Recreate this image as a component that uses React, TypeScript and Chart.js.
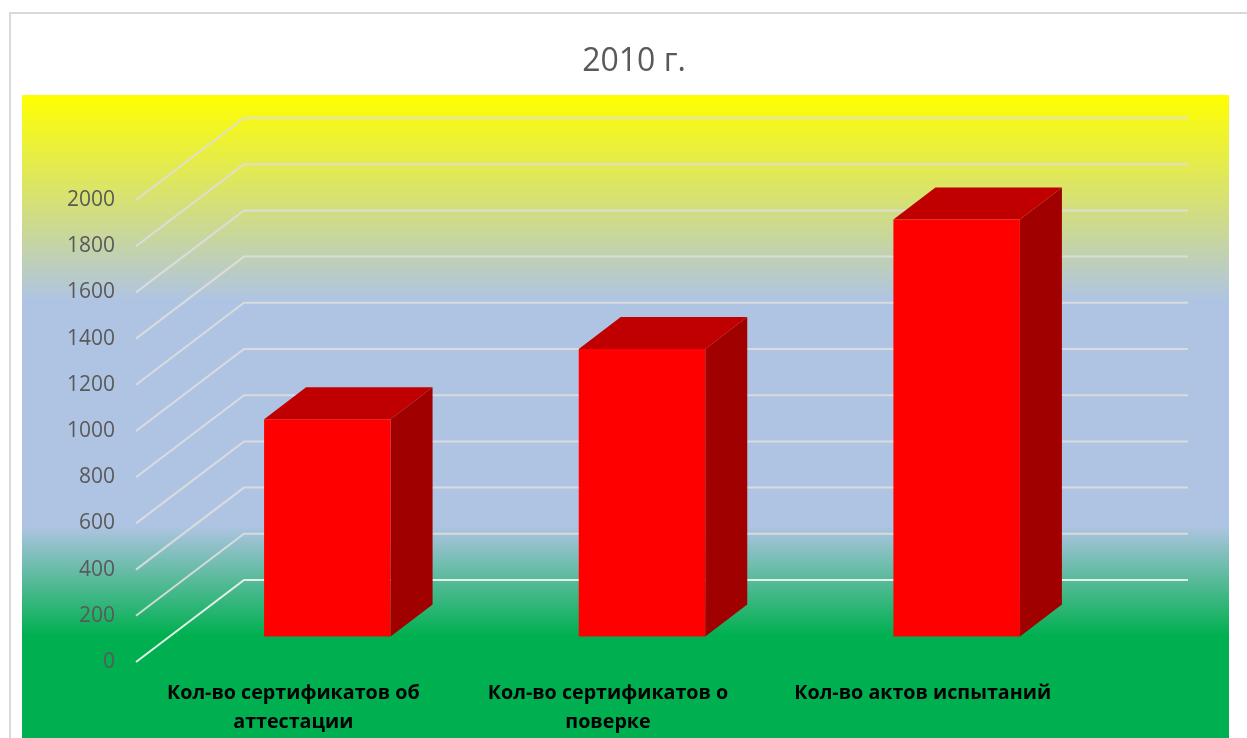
import React, { useEffect, useRef } from "react";
import { Chart, registerables } from "chart.js";

Chart.register(...registerables);

const titleText = "2010 г.";
const categories = [
  ["Кол-во сертификатов об", "аттестации"],
  ["Кол-во сертификатов о", "поверке"],
  ["Кол-во актов испытаний"],
];
const values = [940, 1245, 1805];
const FONT = "'Open Sans', sans-serif";

const WALL = { dx: 108, dy: -82 };
const BAR_SHIFT = { dx: 34, dy: -25.5 };
const BAR_DEPTH = { dx: 42, dy: -32 };

const poly = (ctx: CanvasRenderingContext2D, pts: number[][], fill: string) => {
  ctx.beginPath();
  pts.forEach(([x, y], i) => (i ? ctx.lineTo(x, y) : ctx.moveTo(x, y)));
  ctx.closePath();
  ctx.fillStyle = fill;
  ctx.fill();
};

const scene = {
  id: "scene",
  beforeDraw(chart: any) {
    const { ctx, width, height, scales } = chart;
    ctx.save();
    // Frame
    ctx.fillStyle = "#ffffff";
    ctx.fillRect(0, 0, width, height);
    ctx.fillStyle = "#D9D9D9";
    ctx.fillRect(9, 12, width - 9, 2);
    ctx.fillRect(9, 12, 2, height - 12);
    // Plot background
    const g = ctx.createLinearGradient(0, 95, 0, height);
    g.addColorStop(0, "#FFFF00");
    g.addColorStop(0.32, "#AFC4E3");
    g.addColorStop(0.67, "#AFC4E3");
    g.addColorStop(0.84, "#00B050");
    g.addColorStop(1, "#00B050");
    ctx.fillStyle = g;
    ctx.fillRect(22, 95, 1207, height - 95);
    // Title
    ctx.fillStyle = "#595959";
    ctx.font = `32px ${FONT}`;
    ctx.textAlign = "center";
    ctx.textBaseline = "middle";
    ctx.fillText(titleText, 634, 62);
    // Floor-side and back-wall grid lines, one per y tick
    const x = scales.x;
    const y = scales.y;
    ctx.lineWidth = 2;
    y.ticks.forEach((t: any) => {
      const py = y.getPixelForValue(t.value);
      ctx.strokeStyle = t.value === 0 ? "#E4EFE6" : "rgba(222,222,222,0.9)";
      ctx.beginPath();
      ctx.moveTo(x.left, py);
      ctx.lineTo(x.left + WALL.dx, py + WALL.dy);
      ctx.lineTo(x.right + WALL.dx, py + WALL.dy);
      ctx.stroke();
    });
    ctx.restore();
  },
  beforeDatasetsDraw(chart: any) {
    const { ctx } = chart;
    ctx.save();
    ctx.translate(BAR_SHIFT.dx, BAR_SHIFT.dy);
    // Side and top faces, read from the library's own bar elements
    chart.getDatasetMeta(0).data.forEach((bar: any) => {
      const { x, y, base, width } = bar.getProps(["x", "y", "base", "width"], true);
      const l = x - width / 2;
      const r = x + width / 2;
      const { dx, dy } = BAR_DEPTH;
      poly(ctx, [[r, y], [r + dx, y + dy], [r + dx, base + dy], [r, base]], "#A00000");
      poly(ctx, [[l, y], [l + dx, y + dy], [r + dx, y + dy], [r, y]], "#C00000");
    });
  },
  afterDatasetsDraw(chart: any) {
    chart.ctx.restore();
  },
};

export default function App() {
  const ref = useRef<HTMLCanvasElement>(null);
  useEffect(() => {
    const chart = new Chart(ref.current!, {
      type: "bar",
      data: {
        labels: categories,
        datasets: [
          {
            label: titleText,
            data: values,
            backgroundColor: "#FF0000",
            borderWidth: 0,
            categoryPercentage: 1,
            barPercentage: 0.402,
            clip: false,
          },
        ],
      },
      plugins: [scene],
      options: {
        responsive: false,
        animation: false,
        devicePixelRatio: 1,
        layout: { padding: { top: 200, right: 167, left: 0, bottom: 0 } },
        plugins: { legend: { display: false }, tooltip: { enabled: false } },
        scales: {
          x: {
            type: "category",
            grid: { display: false, drawTicks: false },
            border: { display: false },
            afterFit: (s: any) => {
              s.height = 76;
            },
            ticks: {
              autoSkip: false,
              maxRotation: 0,
              minRotation: 0,
              padding: 17,
              color: "#000000",
              font: { family: FONT, size: 19.7, weight: "bold", lineHeight: 1.47 },
            },
          },
          y: {
            min: 0,
            max: 2000,
            grid: { display: false, drawTicks: false },
            border: { display: false },
            afterFit: (s: any) => {
              s.width = 136;
            },
            ticks: {
              stepSize: 200,
              padding: 21,
              color: "#595959",
              font: { family: FONT, size: 21 },
              callback: (v: any) => String(v),
            },
          },
        },
      },
    } as any);
    return () => chart.destroy();
  }, []);
  return (
    <canvas
      ref={ref}
      width={1247}
      height={738}
      style={{ position: "fixed", left: 0, top: 0, display: "block" }}
    />
  );
}
